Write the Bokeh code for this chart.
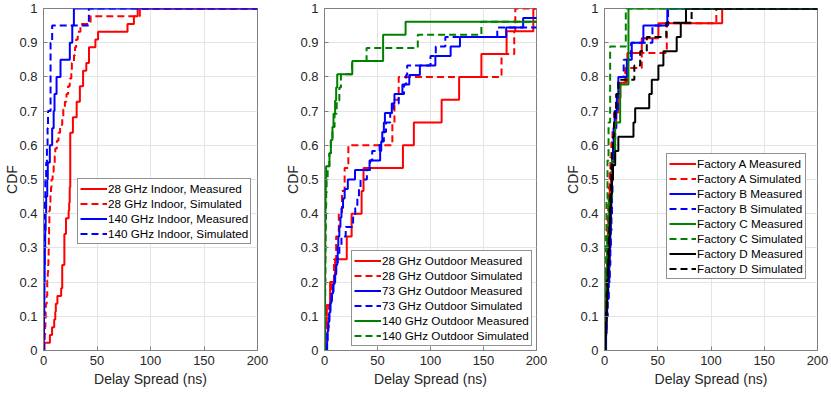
from bokeh.plotting import figure
from bokeh.layouts import row
from bokeh.models import Legend, LegendItem, FixedTicker
from bokeh.embed import file_html
from bokeh.resources import INLINE

# ---------------- axis definitions ----------------
x_ticks = [0, 50, 100, 150, 200]
x_tick_labels = ["0", "50", "100", "150", "200"]
y_ticks = [0, 0.1, 0.2, 0.3, 0.4, 0.5, 0.6, 0.7, 0.8, 0.9, 1]
y_tick_labels = ["0", "0.1", "0.2", "0.3", "0.4", "0.5", "0.6", "0.7", "0.8", "0.9", "1"]
x_label = "Delay Spread (ns)"
y_label = "CDF"

# ---------------- panel 1: indoor (delay spread samples, ns) ----------------
indoor28_measured = [0.5, 6, 8, 10, 11, 11.5, 13, 16.5, 17.5, 17.5, 17.5, 19.5, 19.5, 19.5, 19.5,
                     21, 21, 23.5, 24, 24.5, 24.5, 25, 25, 25, 25, 25, 25, 25, 27.5, 27.5, 31, 31,
                     34, 34, 37, 37, 40, 42.5, 42.5, 48.5, 51, 78.5, 84.5, 88]
indoor28_simulated = [1, 1.2, 1.5, 1.8, 2, 2.2, 3, 3.5, 3.5, 4, 4.3, 4.6, 4.8, 5, 5, 5.2, 5.5, 5.5,
                      6, 6.5, 7, 7.5, 8.5, 9.5, 10.5, 11, 12.5, 14, 15.5, 17.5, 18.5, 20, 21.5, 23,
                      24.5, 26, 26.5, 28.5, 29.5, 30.5, 32, 34.5, 44, 90]
indoor140_measured = [0.3, 0.5, 0.7, 0.9, 1.1, 1.3, 1.6, 2.0, 2.5, 3.5, 4.0, 5.9, 8.1, 9.5, 10.3,
                      12.2, 15.9, 24.6, 26.9, 28.4]
indoor140_simulated = [0.1, 0.2, 0.3, 0.4, 0.5, 0.6, 0.8, 1.0, 1.3, 1.7, 2.5, 3.2, 3.8, 4.2, 6.6,
                       6.6, 6.6, 6.6, 8.1, 42.4]

# ---------------- panel 2: outdoor ----------------
outdoor28_measured = [0.8, 2.2, 5.3, 10, 21, 25.6, 35, 36.8, 74, 84.3, 110.5, 127, 148, 171.8, 197]
outdoor28_simulated = [1, 4, 6.5, 9, 11, 13.5, 16.5, 19, 22.5, 64, 66, 70, 167, 179, 180]
outdoor73_measured = [2.5, 3, 3.5, 4.5, 5.5, 6.5, 8, 9.5, 11, 12, 12.5, 13, 14, 15, 16, 17.5, 19, 22,
                      28.8, 42.5, 52.5, 53.5, 54.5, 56, 57, 63.5, 66, 73.5, 80, 90, 104.6, 119,
                      127.8, 171.4, 187.4, 215]
outdoor73_simulated = [1.5, 2.5, 3.5, 4.5, 5.5, 7, 8.5, 10, 11, 12.5, 14, 16, 20, 27, 29, 31, 32.5,
                       34, 40, 43, 45, 52, 56, 58, 62, 65, 70, 75, 77, 78, 100, 105, 114, 163,
                       210, 220]
outdoor140_measured = [0.2, 0.3, 0.4, 0.5, 0.5, 0.6, 0.6, 0.7, 0.7, 0.8, 0.9, 1.0, 1.2, 1.5, 4.7, 6,
                       7.5, 8.5, 10, 11, 12, 26.2, 55.3, 55.3, 76.5, 230]
outdoor140_simulated = [0.3, 0.4, 0.5, 0.6, 0.7, 0.8, 0.9, 1.0, 1.1, 1.2, 1.4, 1.6, 2, 3, 4.5, 6,
                        7.5, 9.5, 11.5, 14, 15.5, 26, 39.7, 88, 148, 230]

# ---------------- panel 3: factories ----------------
factoryA_measured = [0.5, 1, 1.3, 1.6, 2, 2.4, 2.8, 3.2, 3.6, 4.2, 5, 6, 7, 8, 9.5, 11, 13, 15, 21,
                     21.5, 35, 50.6, 110.5]
factoryA_simulated = [0.3, 0.6, 0.9, 1.2, 1.5, 1.8, 2.2, 2.6, 3, 3.5, 4, 4.8, 5.5, 6.5, 7.5, 9, 11,
                      13, 19.5, 35, 58.5, 58.5, 105]
factoryB_measured = [1.5, 2, 2.5, 3.5, 4.5, 5, 5.5, 6, 6.5, 7, 7.5, 8, 8.5, 9.5, 11.6, 13, 21, 25.6,
                     36.5, 59]
factoryB_simulated = [1, 2, 3, 4, 5, 5.5, 6, 6.5, 7, 7.5, 8, 9, 10, 11, 12.5, 14, 18, 25, 45, 59.7]
factoryC_measured = [0.8, 1.5, 2.5, 4, 7, 10, 14.7, 22.5, 22.5]
factoryC_simulated = [0.3, 0.6, 1.0, 1.8, 2.8, 3.8, 5.3, 5.3, 20]
factoryD_measured = [1, 1.5, 2, 2.5, 3, 3.5, 4, 4.5, 5, 5.5, 6, 7, 8, 10, 13, 27.2, 28.8, 42, 44.4,
                     50.6, 55.3, 67.8, 71.6, 76.5]
factoryD_simulated = [0.5, 1, 1.5, 2, 2.5, 3, 3.5, 4, 4.5, 5, 5.5, 6, 6.5, 7, 8, 9, 10, 11, 13, 28,
                      33.5, 39.7, 58, 81.8]

RED, BLUE, GREEN, BLACK = "#ff0000", "#0000ff", "#008000", "#000000"
DASH = "7 4"
FONT = "Liberation Sans"
FRAME = "#808080"

panel1 = [("28 GHz Indoor, Measured", indoor28_measured, RED, "solid"),
          ("28 GHz Indoor, Simulated", indoor28_simulated, RED, DASH),
          ("140 GHz Indoor, Measured", indoor140_measured, BLUE, "solid"),
          ("140 GHz Indoor, Simulated", indoor140_simulated, BLUE, DASH)]
panel2 = [("28 GHz Outdoor Measured", outdoor28_measured, RED, "solid"),
          ("28 GHz Outdoor Simulated", outdoor28_simulated, RED, DASH),
          ("73 GHz Outdoor Measured", outdoor73_measured, BLUE, "solid"),
          ("73 GHz Outdoor Simulated", outdoor73_simulated, BLUE, DASH),
          ("140 GHz Outdoor Measured", outdoor140_measured, GREEN, "solid"),
          ("140 GHz Outdoor Simulated", outdoor140_simulated, GREEN, DASH)]
panel3 = [("Factory A Measured", factoryA_measured, RED, "solid"),
          ("Factory A Simulated", factoryA_simulated, RED, DASH),
          ("Factory B Measured", factoryB_measured, BLUE, "solid"),
          ("Factory B Simulated", factoryB_simulated, BLUE, DASH),
          ("Factory C Measured", factoryC_measured, GREEN, "solid"),
          ("Factory C Simulated", factoryC_simulated, GREEN, DASH),
          ("Factory D Measured", factoryD_measured, BLACK, "solid"),
          ("Factory D Simulated", factoryD_simulated, BLACK, DASH)]


def ecdf(samples, xmax=200):
    s = sorted(samples)
    n = len(s)
    xs = [s[0]] + s + [max(xmax, s[-1])]
    ys = [0.0] + [(i + 1) / n for i in range(n)] + [1.0]
    return xs, ys


def make_panel(series, width, right_border, legend_loc):
    p = figure(width=width, height=395, x_range=(0, 200), y_range=(0, 1),
               output_backend="svg", toolbar_location=None,
               min_border_left=43, min_border_right=right_border,
               min_border_top=8, min_border_bottom=45)
    p.background_fill_color = "white"
    p.outline_line_color = FRAME
    p.outline_line_width = 1
    p.xgrid.grid_line_color = "#e4e4e4"
    p.ygrid.grid_line_color = "#e4e4e4"
    p.xaxis.ticker = FixedTicker(ticks=x_ticks)
    p.yaxis.ticker = FixedTicker(ticks=y_ticks)
    p.xaxis.major_label_overrides = {t: l for t, l in zip(x_ticks, x_tick_labels)}
    p.yaxis.major_label_overrides = {t: l for t, l in zip(y_ticks, y_tick_labels)}
    p.xaxis.axis_label = x_label
    p.yaxis.axis_label = y_label
    for ax in (p.xaxis, p.yaxis):
        ax.axis_line_color = FRAME
        ax.major_tick_line_color = FRAME
        ax.major_tick_in = 4
        ax.major_tick_out = 0
        ax.minor_tick_line_color = None
        ax.major_label_text_font = FONT
        ax.major_label_text_font_size = "13px"
        ax.major_label_text_color = "#262626"
        ax.axis_label_text_font = FONT
        ax.axis_label_text_font_size = "14px"
        ax.axis_label_text_font_style = "normal"
        ax.axis_label_text_color = "#262626"
    p.xaxis.axis_label_standoff = 3
    p.xaxis.major_label_standoff = 5
    p.yaxis.axis_label_standoff = -4
    p.yaxis.major_label_standoff = 6

    items = []
    for label, samples, color, dash in series:
        xs, ys = ecdf(samples)
        r = p.step(x=xs, y=ys, mode="after", line_color=color, line_width=2, line_dash=dash)
        items.append(LegendItem(label=label, renderers=[r]))

    legend = Legend(items=items, location=legend_loc)
    legend.label_text_font = FONT
    legend.label_text_font_size = "11.7px"
    legend.label_text_color = "#000000"
    legend.border_line_color = "#262626"
    legend.border_line_width = 1
    legend.background_fill_alpha = 1.0
    legend.padding = 2
    legend.spacing = 0
    legend.margin = 0
    legend.label_height = 15
    legend.glyph_height = 15
    legend.glyph_width = 27
    legend.label_standoff = 1
    p.add_layout(legend)
    return p


p1 = make_panel(panel1, 281, 24, (34, 106))
p2 = make_panel(panel2, 280, 25, (27, 4))
p3 = make_panel(panel3, 270, 14, (62, 71))

layout = row(p1, p2, p3)
open("out.html", "w").write(file_html(layout, INLINE))
